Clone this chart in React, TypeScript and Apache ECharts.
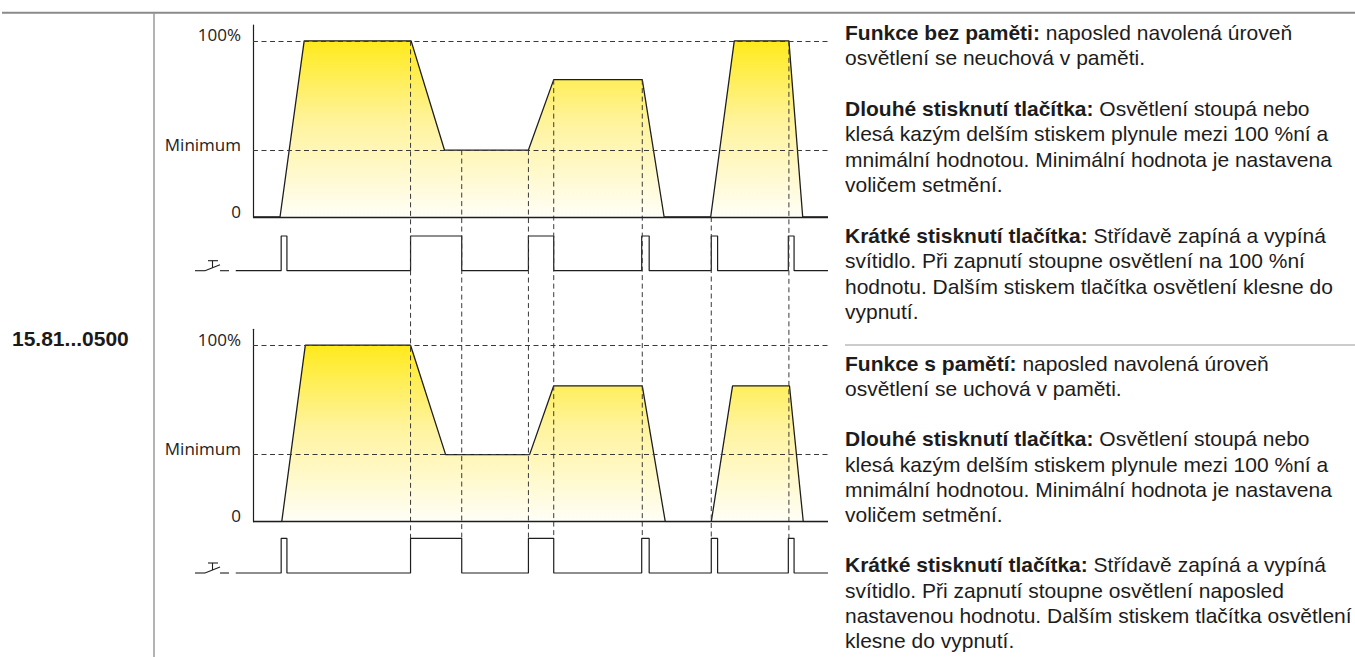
import React, { useEffect, useRef } from 'react';
import * as echarts from 'echarts';

// ---------- data ----------
// time axis in arbitrary units (0 .. 100)
const upperTimes = [0, 4.7, 8.9, 27.5, 33.3, 47.9, 52.3, 67.7, 71.5, 79.6, 83.7, 93.2, 95.6, 100];
const upperLevels = [0, 0, 100, 100, 38, 38, 78, 78, 0, 0, 100, 100, 0, 0];
const lowerTimes = [0, 5.0, 9.1, 27.4, 33.5, 48.1, 52.3, 67.7, 71.7, 79.7, 83.4, 93.3, 95.7, 100];
const lowerLevels = [0, 0, 100, 100, 38, 38, 77, 77, 0, 0, 77, 77, 0, 0];
const pressStarts = [4.9, 27.4, 47.9, 67.6, 79.7, 93.1];
const pressEnds = [5.9, 36.3, 52.3, 68.9, 80.8, 94.1];
const guideTimes = [27.4, 36.3, 47.9, 52.3, 67.7, 79.7, 93.2];
const guideFrom = [100, 38, 38, 78, 78, 0, 100];
const levelValues = [100, 38, 0];
const levelLabels = ['100%', 'Minimum', '0'];
const productCode = '15.81...0500';

const upperText: ([string, string] | null)[] = [
  ['Funkce bez paměti:', ' naposled navolená úroveň'],
  ['', 'osvětlení se neuchová v paměti.'],
  null,
  ['Dlouhé stisknutí tlačítka:', ' Osvětlení stoupá nebo'],
  ['', 'klesá kazým delším stiskem plynule mezi 100 %ní a'],
  ['', 'mnimální hodnotou. Minimální hodnota je nastavena'],
  ['', 'voličem setmění.'],
  null,
  ['Krátké stisknutí tlačítka:', ' Střídavě zapíná a vypíná'],
  ['', 'svítidlo. Při zapnutí stoupne osvětlení na 100 %ní'],
  ['', 'hodnotu. Dalším stiskem tlačítka osvětlení klesne do'],
  ['', 'vypnutí.'],
];
const lowerText: ([string, string] | null)[] = [
  ['Funkce s pamětí:', ' naposled navolená úroveň'],
  ['', 'osvětlení se uchová v paměti.'],
  null,
  ['Dlouhé stisknutí tlačítka:', ' Osvětlení stoupá nebo'],
  ['', 'klesá kazým delším stiskem plynule mezi 100 %ní a'],
  ['', 'mnimální hodnotou. Minimální hodnota je nastavena'],
  ['', 'voličem setmění.'],
  null,
  ['Krátké stisknutí tlačítka:', ' Střídavě zapíná a vypíná'],
  ['', 'svítidlo. Při zapnutí stoupne osvětlení naposled'],
  ['', 'nastavenou hodnotu. Dalším stiskem tlačítka osvětlení'],
  ['', 'klesne do vypnutí.'],
];

// ---------- layout ----------
const W = 1355;
const H = 657;
const PLOT_LEFT = 253;
const PLOT_WIDTH = 575;
const T_MAX = 100;
const Y_MAX = 109;
const PULSE_LEAD = -3; // press baseline starts a little before the level axis
const PX_PER_T = PLOT_WIDTH / T_MAX;
const PRESS_LEFT = PLOT_LEFT + PULSE_LEAD * PX_PER_T;
const PRESS_WIDTH = PLOT_LEFT + PLOT_WIDTH - PRESS_LEFT;
const GRIDS = [
  { top: 25, height: 192, press: false }, // upper levels
  { top: 236, height: 34.7, press: true }, // upper presses
  { top: 329.3, height: 192.4, press: false }, // lower levels
  { top: 538.3, height: 34.7, press: true }, // lower presses
];
// guide lines extend from the upper chart down to the top of the lower press row
const GUIDE_END =
  -(GRIDS[3].top - (GRIDS[0].top + GRIDS[0].height)) / (GRIDS[0].height / Y_MAX);

const INK = '#1e1e1e';
const DASH = [5, 3.5];
const TEXT_FONT = '"Liberation Sans", Arial, Helvetica, sans-serif';
const TEXT_SIZE = 21;
const TEXT_X = 845;

function buildOption() {
  const fill = new echarts.graphic.LinearGradient(0, 0, 0, 1, [
    { offset: 0, color: '#FFEA1C' },
    { offset: 0.45, color: '#FFF39A' },
    { offset: 1, color: '#FFFEF6' },
  ]);

  const traceSeries = (times: number[], levels: number[], gi: number) => ({
    type: 'line',
    xAxisIndex: gi,
    yAxisIndex: gi,
    data: times.map((t, i) => [t, levels[i]]),
    symbol: 'none',
    silent: true,
    lineStyle: { color: INK, width: 1.3 },
    areaStyle: { color: fill, opacity: 1 },
    markLine: {
      silent: true,
      symbol: 'none',
      animation: false,
      label: {
        show: true,
        position: 'start',
        distance: 12,
        formatter: '{b}',
        color: '#222',
        fontFamily: '"Open Sans", sans-serif',
        fontSize: 17,
        lineHeight: 12,
        verticalAlign: 'bottom',
      },
      data: levelValues.map((v, i) => ({
        name: levelLabels[i],
        yAxis: v,
        lineStyle:
          v === 0
            ? { color: INK, width: 1.3, type: 'solid' }
            : { color: '#3a3a3a', width: 1, type: DASH },
      })),
    },
  });

  const pulseData: number[][] = [[PULSE_LEAD, 0]];
  pressStarts.forEach((s, i) => {
    const e = pressEnds[i];
    pulseData.push([s, 0], [s, 1], [e, 1], [e, 0]);
  });
  pulseData.push([T_MAX, 0]);

  const pulseSeries = (gi: number) => ({
    type: 'line',
    xAxisIndex: gi,
    yAxisIndex: gi,
    data: pulseData,
    clip: false,
    symbol: 'none',
    silent: true,
    lineStyle: { color: INK, width: 1.2 },
  });

  const guideSeries = guideTimes.map((t, k) => ({
    type: 'line',
    xAxisIndex: 0,
    yAxisIndex: 0,
    data: [
      [t, guideFrom[k]],
      [t, GUIDE_END],
    ],
    clip: false,
    symbol: 'none',
    silent: true,
    z: 4,
    lineStyle: { color: '#3a3a3a', width: 1, type: DASH },
  }));

  // text lines
  const textGraphics: any[] = [];
  const addBlock = (lines: ([string, string] | null)[], firstCenter: number, step: number) => {
    lines.forEach((ln, i) => {
      if (!ln) return;
      const [bold, rest] = ln;
      textGraphics.push({
        type: 'text',
        x: TEXT_X,
        y: firstCenter + i * step,
        silent: true,
        style: {
          text: bold ? `{b|${bold}}${rest}` : rest,
          fontFamily: TEXT_FONT,
          fontSize: TEXT_SIZE,
          fill: '#1c1c1c',
          verticalAlign: 'middle',
          align: 'left',
          rich: {
            b: {
              fontFamily: TEXT_FONT,
              fontSize: TEXT_SIZE,
              fontWeight: 'bold',
              fill: '#1c1c1c',
            },
          },
        },
      });
    });
  };
  addBlock(upperText, 32.3, 25.4);
  addBlock(lowerText, 363.3, 25.2);

  // push-button symbol drawn left of each press row
  const buttonSymbol = (baseY: number) => {
    const seg = (pts: number[][]) => ({
      type: 'polyline',
      silent: true,
      shape: { points: pts.map(([x, y]) => [x, baseY + y]) },
      style: { stroke: INK, lineWidth: 1.1, fill: 'none' },
    });
    return [
      seg([[195, 0], [205, 0]]),
      seg([[205, 0], [220, -6]]),
      seg([[212.5, -3], [212.5, -10]]),
      seg([[208, -10], [218, -10]]),
      seg([[220, 0], [229, 0]]),
    ];
  };

  return {
    animation: false,
    backgroundColor: '#ffffff',
    grid: GRIDS.map((g) =>
      g.press
        ? { left: PRESS_LEFT, width: PRESS_WIDTH, top: g.top, height: g.height }
        : { left: PLOT_LEFT, width: PLOT_WIDTH, top: g.top, height: g.height }
    ),
    xAxis: GRIDS.map((g, i) => ({
      type: 'value',
      gridIndex: i,
      min: g.press ? PULSE_LEAD : 0,
      max: T_MAX,
      show: false,
    })),
    yAxis: GRIDS.map((g, i) =>
      !g.press
        ? {
            type: 'value',
            gridIndex: i,
            min: 0,
            max: Y_MAX,
            axisLine: { show: true, onZero: false, lineStyle: { color: INK, width: 1.2 } },
            axisTick: { show: false },
            axisLabel: { show: false },
            splitLine: { show: false },
          }
        : { type: 'value', gridIndex: i, min: 0, max: 1, show: false }
    ),
    series: [
      traceSeries(upperTimes, upperLevels, 0),
      pulseSeries(1),
      traceSeries(lowerTimes, lowerLevels, 2),
      pulseSeries(3),
      ...guideSeries,
    ],
    graphic: [
      {
        type: 'line',
        silent: true,
        shape: { x1: 2, y1: 12.7, x2: W, y2: 12.7 },
        style: { stroke: '#8a8a8a', lineWidth: 2 },
      },
      {
        type: 'line',
        silent: true,
        shape: { x1: 154, y1: 13, x2: 154, y2: H },
        style: { stroke: '#9a9a9a', lineWidth: 1.5 },
      },
      {
        type: 'line',
        silent: true,
        shape: { x1: TEXT_X, y1: 345, x2: W, y2: 345 },
        style: { stroke: '#9a9a9a', lineWidth: 1.2 },
      },
      {
        type: 'text',
        x: 12,
        y: 338,
        silent: true,
        style: {
          text: productCode,
          fontFamily: TEXT_FONT,
          fontSize: TEXT_SIZE,
          fontWeight: 'bold',
          fill: '#1a1a1a',
          verticalAlign: 'middle',
        },
      },
      ...buttonSymbol(GRIDS[1].top + GRIDS[1].height),
      ...buttonSymbol(GRIDS[3].top + GRIDS[3].height),
      ...textGraphics,
    ],
  };
}

export default function App() {
  const ref = useRef<HTMLDivElement>(null);
  useEffect(() => {
    if (!ref.current) return;
    const chart = echarts.init(ref.current, null, { renderer: 'svg' });
    chart.setOption(buildOption() as any);
    return () => chart.dispose();
  }, []);
  return (
    <div
      ref={ref}
      style={{
        position: 'fixed',
        left: 0,
        top: 0,
        width: W,
        height: H,
        overflow: 'hidden',
        background: '#fff',
      }}
    />
  );
}
